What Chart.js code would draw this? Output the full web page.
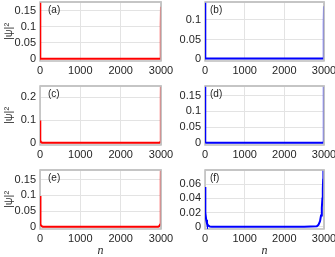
<!DOCTYPE html>
<html>
<head>
<meta charset="utf-8">
<script src="https://cdn.jsdelivr.net/npm/chart.js@4.4.1/dist/chart.umd.min.js"></script>
<style>
html,body{margin:0;padding:0;background:#fff;}
body{width:335px;height:257px;position:relative;overflow:hidden;}
canvas{position:absolute;}
</style>
</head>
<body>
<canvas id="ca"></canvas><canvas id="cb"></canvas>
<canvas id="cc"></canvas><canvas id="cd"></canvas>
<canvas id="ce"></canvas><canvas id="cf"></canvas>
<script>
// ---- data ----
const xTicks = [0, 1000, 2000, 3000];

const nA   = [1, 2, 3, 4, 6, 10, 20, 500, 1000, 1500, 2000, 2500, 2980, 2990, 2994, 2996, 2998, 2999, 3000];
const psiA = [0.26, 0.12, 0.05, 0.02, 0.006, 0.002, 0.001, 0.001, 0.001, 0.001, 0.001, 0.001, 0.001, 0.002, 0.006, 0.02, 0.06, 0.11, 0.163];
const yTicksA = [0, 0.05, 0.1, 0.15];

const nB   = [1, 2, 3, 4, 6, 10, 20, 500, 1000, 1500, 2000, 2500, 2980, 2990, 2995, 2997, 2998, 2999, 3000];
const psiB = [0.2, 0.075, 0.11, 0.04, 0.02, 0.005, 0.001, 0.001, 0.001, 0.001, 0.001, 0.001, 0.001, 0.002, 0.01, 0.03, 0.05, 0.09, 0.135];
const yTicksB = [0, 0.05, 0.1];

const nC   = [1, 3, 6, 12, 25, 50, 500, 1000, 1500, 2000, 2500, 2960, 2985, 2992, 2996, 2998, 2999, 3000];
const psiC = [0.098, 0.06, 0.03, 0.012, 0.004, 0.0015, 0.001, 0.001, 0.001, 0.001, 0.001, 0.0015, 0.004, 0.02, 0.06, 0.12, 0.2, 0.3];
const yTicksC = [0, 0.1, 0.2];

const nD   = [1, 2, 3, 5, 8, 15, 30, 500, 1000, 1500, 2000, 2500, 2970, 2985, 2992, 2995, 2997, 2998, 2999, 3000];
const psiD = [0.25, 0.12, 0.06, 0.02, 0.006, 0.002, 0.001, 0.001, 0.001, 0.001, 0.001, 0.001, 0.001, 0.002, 0.006, 0.02, 0.06, 0.12, 0.2, 0.26];
const yTicksD = [0, 0.05, 0.1, 0.15];

const nE   = [1, 4, 10, 20, 40, 70, 500, 1000, 1500, 2000, 2500, 2930, 2960, 2980, 2990, 2996, 2999, 3000];
const psiE = [0.098, 0.05, 0.02, 0.008, 0.003, 0.001, 0.001, 0.001, 0.001, 0.001, 0.001, 0.001, 0.003, 0.008, 0.02, 0.06, 0.15, 0.22];
const yTicksE = [0, 0.05, 0.1, 0.15];

const nF   = [1, 3, 8, 15, 30, 50, 80, 120, 170, 500, 1000, 1500, 2000, 2500, 2820, 2860, 2900, 2925, 2945, 2960, 2970, 2978, 2985, 3000];
const psiF = [0.056, 0.045, 0.03, 0.02, 0.01, 0.005, 0.002, 0.0008, 0.0004, 0.0003, 0.0003, 0.0003, 0.0003, 0.0003, 0.001, 0.003, 0.008, 0.016, 0.027, 0.04, 0.053, 0.066, 0.08, 0.11];
const yTicksF = [0, 0.02, 0.04, 0.06];

const panelLabels = ['(a)', '(b)', '(c)', '(d)', '(e)', '(f)'];
const yTitle = '|ψ|²';
const xTitle = 'n';

// ---- layout ----
const cols = [
  {left: 0,   width: 185, yW: 40, padR: 24, lblDx: 8},
  {left: 168, width: 167, yW: 37, padR: 11, lblDx: 5}
];
const rows = [
  {top: 0,   h: 84, xH: 23},
  {top: 84,  h: 84, xH: 23},
  {top: 168, h: 89, xH: 28}
];

const TICK_COLOR = '#262626';
const framePlugin = {
  id: 'frame',
  beforeDatasetsDraw(chart, args, opts) {
    const {ctx, chartArea: a} = chart;
    ctx.save();
    ctx.strokeStyle = '#bdbdbd';
    ctx.lineWidth = 1.5;
    ctx.strokeRect(a.left, a.top, a.right - a.left, a.bottom - a.top);
    ctx.restore();
  },
  afterDatasetsDraw(chart, args, opts) {
    const {ctx, chartArea: a} = chart;
    ctx.save();
    ctx.strokeStyle = '#c4c4c4';
    ctx.lineWidth = 1.5;
    ctx.beginPath();
    ctx.moveTo(a.left, a.top); ctx.lineTo(a.right, a.top); ctx.lineTo(a.right, a.bottom);
    ctx.stroke();
    ctx.fillStyle = TICK_COLOR;
    ctx.font = '10px "Liberation Sans", Arial, sans-serif';
    ctx.textBaseline = 'middle';
    ctx.textAlign = 'left';
    ctx.fillText(opts.label, a.left + opts.dx, a.top + 8.5);
    ctx.restore();
  }
};

function makePanel(id, n, psi, color, yMin, yMax, yTicks, idx) {
  const col = cols[idx % 2], row = rows[Math.floor(idx / 2)];
  const cv = document.getElementById(id);
  cv.width = col.width; cv.height = row.h;
  cv.style.left = col.left + 'px'; cv.style.top = row.top + 'px';
  cv.style.width = col.width + 'px'; cv.style.height = row.h + 'px';
  const isLeft = idx % 2 === 0, isBottom = idx >= 4;
  const font = {family: '"Liberation Sans", Arial, sans-serif', size: 11};
  new Chart(cv, {
    type: 'line',
    data: {
      datasets: [{
        data: n.map((v, i) => ({x: v, y: psi[i]})),
        borderColor: color,
        borderWidth: 2,
        pointRadius: 0,
        tension: 0,
        fill: false
      }]
    },
    options: {
      responsive: false,
      animation: false,
      devicePixelRatio: 1,
      events: [],
      layout: {padding: {left: 0, right: col.padR, top: 2, bottom: 0}},
      plugins: {legend: {display: false}, tooltip: {enabled: false},
                frame: {label: panelLabels[idx], dx: col.lblDx}},
      scales: {
        x: {
          type: 'linear', min: 0, max: 3000,
          afterBuildTicks: s => { s.ticks = xTicks.map(v => ({value: v})); },
          afterFit: s => { s.height = row.xH; s.paddingLeft = 0; s.paddingRight = 0; },
          grid: {color: '#e3e3e3', lineWidth: 1, drawTicks: false},
          border: {display: false},
          ticks: {color: TICK_COLOR, font, padding: 3, maxRotation: 0, autoSkip: false,
                  callback: v => String(v)},
          title: {display: isBottom, text: xTitle, color: TICK_COLOR,
                  font: {family: '"Liberation Serif", "Times New Roman", serif', size: 12, style: 'italic', lineHeight: 1.0},
                  padding: {top: 0, bottom: 0}}
        },
        y: {
          min: yMin, max: yMax,
          afterBuildTicks: s => { s.ticks = yTicks.map(v => ({value: v})); },
          afterFit: s => { s.width = col.yW; s.paddingTop = 0; s.paddingBottom = 0; },
          grid: {color: '#e3e3e3', lineWidth: 1, drawTicks: false},
          border: {display: false},
          ticks: {color: TICK_COLOR, font, padding: 4, callback: v => String(v)},
          title: {display: isLeft, text: yTitle, color: '#333',
                  font: {family: '"Liberation Sans", Arial, sans-serif', size: 11, lineHeight: 1.2},
                  padding: {top: 2, bottom: 0}}
        }
      }
    },
    plugins: [framePlugin]
  });
}

makePanel('ca', nA, psiA, '#ff0000', -0.00625, 0.178, yTicksA, 0);
makePanel('cb', nB, psiB, '#0000ff', -0.0051, 0.146, yTicksB, 1);
makePanel('cc', nC, psiC, '#ff0000', -0.0087, 0.248, yTicksC, 2);
makePanel('cd', nD, psiD, '#0000ff', -0.0063, 0.18, yTicksD, 3);
makePanel('ce', nE, psiE, '#ff0000', -0.0063, 0.18, yTicksE, 4);
makePanel('cf', nF, psiF, '#0000ff', -0.0028, 0.0797, yTicksF, 5);
</script>
</body>
</html>
